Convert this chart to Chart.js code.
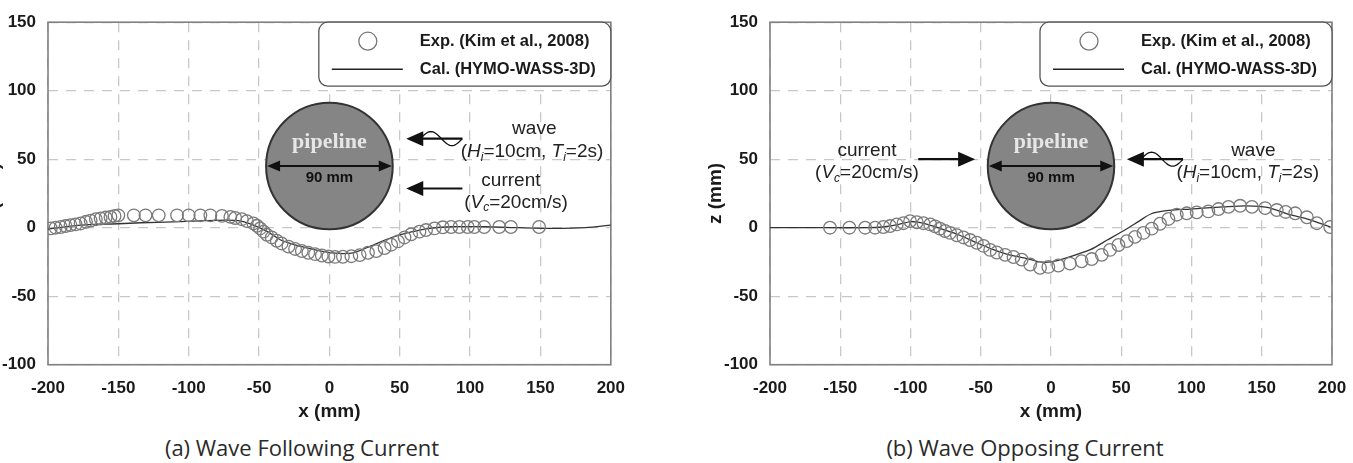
<!DOCTYPE html>
<html>
<head>
<meta charset="utf-8">
<script src="https://cdn.jsdelivr.net/npm/chart.js@4.4.1/dist/chart.umd.min.js"></script>
<style>
  html, body { margin: 0; padding: 0; background: #fff; }
  body { width: 1353px; height: 463px; overflow: hidden; position: relative; }
  .panel { position: absolute; top: 0; }
  .caption { position: absolute; top: 432px; font: 22px "Open Sans", sans-serif; color: #2a2a2a; transform: translateX(-50%); white-space: nowrap; }
</style>
</head>
<body>
<div class="panel" style="left:-62px"><canvas id="chartA" width="700" height="430"></canvas></div>
<div class="panel" style="left:660px"><canvas id="chartB" width="700" height="430"></canvas></div>
<div class="caption" style="left:302px">(a) Wave Following Current</div>
<div class="caption" style="left:1025px">(b) Wave Opposing Current</div>
<script>
// (a) wave following current
const expAx = [-198, -194.6, -191, -187.5, -184, -180.4, -176.8, -173, -169.7, -166, -162.6, -159, -155.6, -152.7, -150,
  -139, -130.7, -121.3, -108.3, -100, -91.7, -84.6, -76.4, -70.4, -67, -62.2, -58.6, -54, -51.5, -49.2, -46.8, -44.4,
  -41, -37.4, -34, -29.1, -24.4, -19.6, -15, -10.2, -5.4, -0.7, 4, 9.6, 15.6, 21.5, 27.4, 33.3, 39.2, 43.9, 48.7,
  53.4, 58.1, 64, 68.7, 74.7, 80.6, 86.5, 92.4, 98.3, 103, 110, 120.7, 129, 149];
const expAz = [-0.5, 0, 0.5, 1.2, 1.9, 2.4, 3.1, 4.3, 5.2, 6.2, 6.7, 7.4, 7.9, 8.6, 9,
  9, 9, 9, 9, 9, 9, 9, 8.6, 7.9, 7.1, 6.2, 4.8, 3.1, 1.4, -0.5, -2.9, -5.2,
  -7.1, -9.5, -11.5, -13.8, -15.5, -17, -18.3, -19.3, -20.3, -21, -21.3, -21.2, -20.8, -20, -18.3, -17.1, -14.8, -12.4, -10,
  -7.1, -4.8, -2.9, -1.7, -0.5, 0.3, 0.5, 0.5, 0.5, 0.5, 0.5, 0.5, 0.5, 0.5];
const calAx = [-200, -182, -167, -150, -134, -111, -92, -73, -63, -54, -44, -35, -25, -16, -4, 7, 17, 29, 40, 50, 59, 71, 88, 111, 135, 159, 182, 200];
const calAz = [-1, 1.4, 2.4, 2.9, 3.6, 4.3, 5, 5.5, 4.8, 1.9, -2.9, -8.8, -12.4, -14.8, -17.5, -18.8, -18.3, -13.6, -8.8, -5.2, -2.9, -0.5, 0.7, 0.7, 0, -0.5, 0, 1.9];

// (b) wave opposing current
const expBx = [-157.3, -143.5, -132.3, -125.2, -119.3, -114.5, -109.8, -105, -100.3, -95.5, -90.8, -86, -82.5, -79, -75.4,
  -71.8, -67, -62.3, -57.6, -52.8, -48, -43.3, -38.6, -32.6, -26.7, -20.8, -14.8, -7.8, -1.9, 5.2, 13.5, 21.8, 29,
  36.1, 42, 48, 53.9, 59.8, 65.8, 71.7, 77.6, 83.6, 89.5, 96.6, 103.7, 112, 119.2, 126.3, 134.6, 143, 152.4, 160.7,
  167, 173.8, 182.1, 189.2, 198.7];
const expBz = [0, 0, 0, 0, 0.5, 1.2, 2.4, 3.3, 4.8, 4, 3.3, 2.4, 1, -0.7, -2.4,
  -3.8, -5.5, -7.1, -9, -11, -13.3, -16.2, -18.1, -19.8, -21.4, -23.3, -26.9, -29.3, -28.6, -27.6, -26.2, -24.5, -22.9,
  -19.8, -16.2, -12.6, -9.8, -6.7, -3.8, -0.7, 2.9, 6.4, 9.5, 10.5, 11.2, 11.9, 13.6, 15.2, 16, 15.2, 14.3, 12.9,
  11.5, 10.5, 7.6, 3.3, 0.5];
const calBx = [-200, -160, -130, -120, -110, -100, -95, -88, -77, -65, -53, -41, -29, -17, -8, 0, 11, 28, 40, 52, 63, 71, 82, 99, 123, 139, 154, 170, 182, 199];
const calBz = [0, 0, 0, 0.5, 2, 4.5, 4, 2.5, -1.2, -5.5, -11, -16, -20, -22.5, -25, -25, -22, -16, -9, -2, 5, 10, 12.4, 13.6, 15.2, 16, 14.8, 9.5, 6.4, 0.5];

const seriesLabels = ['Exp. (Kim et al., 2008)', 'Cal. (HYMO-WASS-3D)'];

const ink = '#1a1a1a';
const sans = '"Liberation Sans", Arial, sans-serif';

// sketch items, placed in data units (mm)
const notesA = {
  arrows: [
    { from: [94.5, 65], to: [54.6, 65], wave: true },
    { from: [94.5, 28.6], to: [54.6, 28.6], wave: false },
  ],
  labels: [
    { at: [145.6, 72], parts: [['wave', '']] },
    { at: [144, 55.3], parts: [['(', ''], ['H', 'i'], ['i', 's'], ['=10cm, ', ''], ['T', 'i'], ['i', 's'], ['=2s)', '']] },
    { at: [129, 34.6], parts: [['current', '']] },
    { at: [132.6, 18.5], parts: [['(', ''], ['V', 'i'], ['c', 's'], ['=20cm/s)', '']] },
  ],
};
const notesB = {
  arrows: [
    { from: [94, 50], to: [54, 50], wave: true },
    { from: [-94.5, 50], to: [-54, 50], wave: false },
  ],
  labels: [
    { at: [144, 56], parts: [['wave', '']] },
    { at: [140, 40], parts: [['(', ''], ['H', 'i'], ['i', 's'], ['=10cm, ', ''], ['T', 'i'], ['i', 's'], ['=2s)', '']] },
    { at: [-131, 56], parts: [['current', '']] },
    { at: [-131, 40], parts: [['(', ''], ['V', 'i'], ['c', 's'], ['=20cm/s)', '']] },
  ],
};

function head(ctx, x, y, dir, len, half) {
  ctx.beginPath();
  ctx.moveTo(x, y);
  ctx.lineTo(x - dir * len, y - half);
  ctx.lineTo(x - dir * len, y + half);
  ctx.closePath();
  ctx.fill();
}

function richText(ctx, parts, cx, cy, size) {
  const fontFor = s => (s ? 'italic ' : '') + (s === 's' ? Math.round(size * 0.62) : size) + 'px ' + sans;
  let w = 0;
  parts.forEach(([t, s]) => { ctx.font = fontFor(s); w += ctx.measureText(t).width; });
  let x = cx - w / 2;
  ctx.textAlign = 'left';
  ctx.textBaseline = 'middle';
  parts.forEach(([t, s]) => {
    ctx.font = fontFor(s);
    ctx.fillText(t, x, cy + (s === 's' ? size * 0.3 : 0));
    x += ctx.measureText(t).width;
  });
}

const sketch = {
  id: 'sketch',
  beforeDatasetsDraw(chart, args, opts) {
    const { ctx, chartArea: a, scales: { x: sx, y: sy } } = chart;
    const notes = opts.notes;
    ctx.save();

    // frame
    ctx.strokeStyle = '#808080';
    ctx.lineWidth = 1.6;
    ctx.strokeRect(a.left, a.top, a.right - a.left, a.bottom - a.top);

    // pipeline, 90 mm sitting on z = 0
    const cx = sx.getPixelForValue(0), cy = sy.getPixelForValue(45);
    const r = sx.getPixelForValue(45) - cx;
    ctx.beginPath();
    ctx.arc(cx, cy, r, 0, Math.PI * 2);
    ctx.fillStyle = '#858585';
    ctx.fill();
    ctx.strokeStyle = '#333';
    ctx.lineWidth = 2;
    ctx.stroke();
    ctx.fillStyle = '#e6e6e6';
    ctx.font = 'bold 22px "Liberation Serif", "Times New Roman", serif';
    ctx.textAlign = 'center';
    ctx.textBaseline = 'middle';
    ctx.fillText('pipeline', cx, sy.getPixelForValue(62));
    ctx.strokeStyle = '#111';
    ctx.fillStyle = '#111';
    ctx.lineWidth = 2;
    ctx.beginPath();
    ctx.moveTo(cx - r + 10, cy);
    ctx.lineTo(cx + r - 10, cy);
    ctx.stroke();
    head(ctx, cx - r + 1, cy, -1, 13, 5.5);
    head(ctx, cx + r - 1, cy, 1, 13, 5.5);
    ctx.font = 'bold 15px ' + sans;
    ctx.textAlign = 'center';
    ctx.fillText('90 mm', cx, sy.getPixelForValue(36.3));

    // flow arrows
    notes.arrows.forEach(ar => {
      const x1 = sx.getPixelForValue(ar.from[0]), x2 = sx.getPixelForValue(ar.to[0]);
      const y = sy.getPixelForValue(ar.from[1]);
      const dir = Math.sign(x2 - x1);
      ctx.strokeStyle = '#111';
      ctx.fillStyle = '#111';
      ctx.lineWidth = 2.2;
      ctx.beginPath();
      ctx.moveTo(x1, y);
      ctx.lineTo(x2 - dir * 10, y);
      ctx.stroke();
      head(ctx, x2, y, dir, 17, 7.5);
      if (ar.wave) {
        const L = 42, A = 7, start = x1 + dir * L;
        ctx.lineWidth = 1.3;
        ctx.beginPath();
        for (let i = 0; i <= 40; i++) {
          const t = i / 40;
          const px = start - dir * t * L, py = y - A * Math.sin(2 * Math.PI * t);
          if (i === 0) ctx.moveTo(px, py); else ctx.lineTo(px, py);
        }
        ctx.stroke();
      }
    });

    ctx.fillStyle = '#222';
    notes.labels.forEach(lb => {
      richText(ctx, lb.parts, sx.getPixelForValue(lb.at[0]), sy.getPixelForValue(lb.at[1]), 19);
    });

    // legend box
    const bw = 292, bh = 64, bx = a.right - bw, by = a.top;
    ctx.beginPath();
    ctx.roundRect(bx, by, bw, bh, 9);
    ctx.fillStyle = '#fff';
    ctx.fill();
    ctx.strokeStyle = '#555';
    ctx.lineWidth = 1.3;
    ctx.stroke();
    ctx.beginPath();
    ctx.arc(bx + 49, by + 19, 9, 0, Math.PI * 2);
    ctx.strokeStyle = '#777';
    ctx.stroke();
    ctx.beginPath();
    ctx.moveTo(bx + 13, by + 47);
    ctx.lineTo(bx + 84, by + 47);
    ctx.strokeStyle = '#222';
    ctx.lineWidth = 1.5;
    ctx.stroke();
    ctx.fillStyle = ink;
    ctx.font = 'bold 16.5px ' + sans;
    ctx.textAlign = 'left';
    ctx.textBaseline = 'middle';
    ctx.fillText(chart.data.datasets[0].label, bx + 101, by + 19);
    ctx.fillText(chart.data.datasets[1].label, bx + 101, by + 47);
    ctx.restore();
  },
};

function makeChart(id, expX, expZ, calX, calZ, notes, padRight) {
  return new Chart(document.getElementById(id), {
    type: 'scatter',
    data: {
      datasets: [
        {
          label: seriesLabels[0],
          data: expX.map((x, i) => ({ x, y: expZ[i] })),
          pointStyle: 'circle',
          pointRadius: 6.3,
          borderColor: '#7a7a7a',
          borderWidth: 1.3,
          backgroundColor: 'rgba(0,0,0,0)',
        },
        {
          label: seriesLabels[1],
          data: calX.map((x, i) => ({ x, y: calZ[i] })),
          showLine: true,
          pointRadius: 0,
          borderColor: '#333',
          borderWidth: 1.3,
          tension: 0.25,
        },
      ],
    },
    options: {
      responsive: false,
      animation: false,
      devicePixelRatio: 1,
      layout: { padding: { top: 14, right: padRight, bottom: 0, left: 0 } },
      plugins: { legend: { display: false }, tooltip: { enabled: false }, sketch: { notes } },
      scales: {
        x: {
          type: 'linear', min: -200, max: 200,
          afterFit: s => { s.height = 65.3; },
          ticks: { stepSize: 50, padding: 13, color: ink, font: { family: sans, size: 17, weight: 'bold' } },
          grid: { color: '#c8c8c8', lineWidth: 1.3, drawTicks: false },
          border: { display: false, dash: [10, 8] },
          title: { display: true, text: 'x (mm)', color: ink, padding: { top: 0, bottom: 7 }, font: { family: sans, size: 19, weight: 'bold' } },
        },
        y: {
          type: 'linear', min: -100, max: 150,
          afterFit: s => { s.width = 110; },
          ticks: { stepSize: 50, padding: 12, color: ink, font: { family: sans, size: 17, weight: 'bold' } },
          grid: { color: '#c8c8c8', lineWidth: 1.3, drawTicks: false },
          border: { display: false, dash: [10, 8] },
          title: { display: true, text: 'z (mm)', color: ink, padding: { top: 44, bottom: 0 }, font: { family: sans, size: 19, weight: 'bold' } },
        },
      },
    },
    plugins: [sketch],
  });
}

makeChart('chartA', expAx, expAz, calAx, calAz, notesA, 26);
makeChart('chartB', expBx, expBz, calBx, calBz, notesB, 28);
</script>
</body>
</html>
